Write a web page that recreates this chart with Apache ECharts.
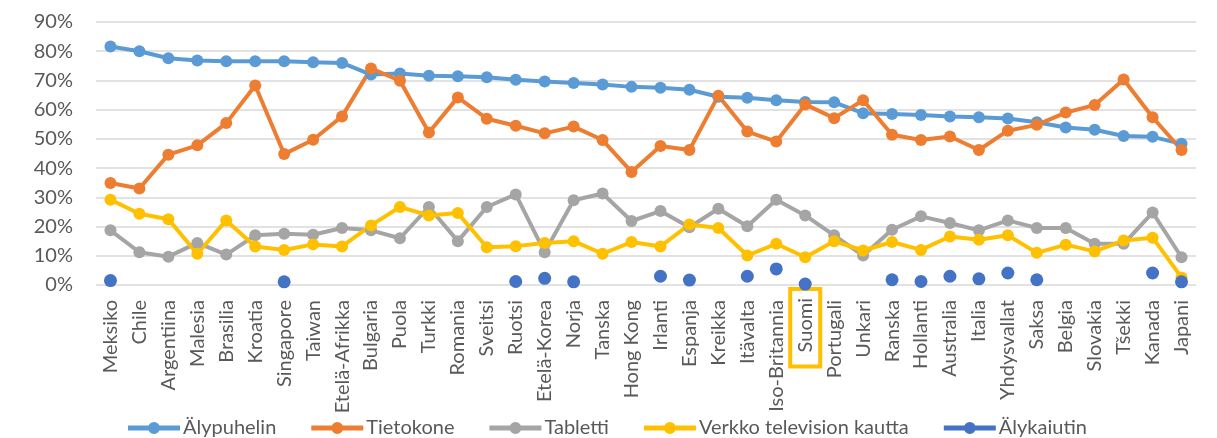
<!DOCTYPE html>
<html>
<head>
<meta charset="utf-8">
<script src="https://cdn.jsdelivr.net/npm/echarts@6/dist/echarts.min.js"></script>
<style>
  html, body { margin: 0; padding: 0; background: #fff; }
  #chart { width: 1217px; height: 438px; }
</style>
</head>
<body>
<div id="chart"></div>
<script>
// Maat (x-akseli)
var maat = ['Meksiko', 'Chile', 'Argentiina', 'Malesia', 'Brasilia', 'Kroatia', 'Singapore', 'Taiwan',
  'Etelä-Afrikka', 'Bulgaria', 'Puola', 'Turkki', 'Romania', 'Sveitsi', 'Ruotsi', 'Etelä-Korea', 'Norja',
  'Tanska', 'Hong Kong', 'Irlanti', 'Espanja', 'Kreikka', 'Itävalta', 'Iso-Britannia', 'Suomi', 'Portugali',
  'Unkari', 'Ranska', 'Hollanti', 'Australia', 'Italia', 'Yhdysvallat', 'Saksa', 'Belgia', 'Slovakia',
  'Tšekki', 'Kanada', 'Japani'];

// Osuudet prosentteina
var alypuhelin = [81.6, 80.0, 77.6, 76.8, 76.6, 76.6, 76.6, 76.2, 76.0, 72.0, 72.4, 71.6, 71.4, 71.1, 70.2,
  69.6, 69.1, 68.6, 67.8, 67.5, 66.8, 64.4, 64.1, 63.2, 62.6, 62.5, 58.8, 58.5, 58.2, 57.7, 57.4, 57.0, 55.7,
  53.9, 53.1, 51.0, 50.7, 48.3];
var tietokone = [34.9, 33.0, 44.6, 47.8, 55.4, 68.3, 44.8, 49.7, 57.7, 74.1, 69.9, 52.2, 64.2, 56.9, 54.5,
  51.9, 54.2, 49.6, 38.7, 47.6, 46.2, 64.8, 52.5, 49.1, 61.8, 57.1, 63.2, 51.4, 49.6, 50.8, 46.2, 52.8, 54.8,
  59.0, 61.6, 70.3, 57.4, 46.2];
var tabletti = [18.7, 11.2, 9.7, 14.4, 10.4, 17.0, 17.5, 17.2, 19.5, 18.7, 16.0, 26.7, 15.0, 26.7, 31.0,
  11.2, 29.0, 31.3, 21.9, 25.3, 19.8, 26.1, 20.1, 29.2, 23.8, 17.0, 10.1, 18.9, 23.5, 21.2, 18.7, 22.1, 19.5,
  19.5, 14.1, 14.1, 24.8, 9.5];
var verkkoTv = [29.2, 24.4, 22.5, 10.7, 22.1, 13.2, 12.0, 13.9, 13.2, 20.4, 26.7, 23.8, 24.6, 12.9, 13.3,
  14.4, 15.0, 10.7, 14.7, 13.2, 20.7, 19.5, 10.1, 14.1, 9.5, 15.0, 11.8, 14.7, 12.0, 16.6, 15.5, 17.0, 11.0,
  13.8, 11.5, 15.2, 16.2, 2.6];
var alykaiutin = [1.5, null, null, null, null, null, 1.1, null, null, null, null, null, null, null, 1.2,
  2.3, 1.1, null, null, 3.0, 1.7, null, 3.0, 5.5, 0.3, null, null, 1.8, 1.2, 3.0, 2.1, 4.1, 1.8,
  null, null, null, 4.1, 1.1];

var tekstiVari = '#595959';
var fontti = 'Lato, "Liberation Sans", sans-serif';
// selitteen kuvake: paksu viiva + pallo keskellä (molemmat myötäpäivään)
var selitePolku = 'path://M0,4.5h52v5h-52z M20,7a6,6 0 1,1 12,0a6,6 0 1,1 -12,0z';

// apu: viivasarja
function sarja(nimi, data, vari) {
  return {
    name: nimi,
    type: 'line',
    data: data,
    symbol: 'circle',
    symbolSize: 12,
    lineStyle: { width: 4, color: vari },
    itemStyle: { color: vari },
    emphasis: { disabled: true }
  };
}

var kaiutin = sarja('Älykaiutin', alykaiutin, '#4472C4');
kaiutin.lineStyle.opacity = 0; // vain pisteet
kaiutin.symbolSize = 13;

var option = {
  animation: false,
  textStyle: { fontFamily: fontti },
  grid: { left: 96, right: 21, top: 22, bottom: 153, outerBoundsMode: 'none' },
  legend: {
    left: 123,
    top: 413,
    itemGap: 35,
    itemWidth: 52,
    itemHeight: 12,
    icon: selitePolku,
    itemStyle: { borderWidth: 0 },
    textStyle: { color: tekstiVari, fontSize: 20, fontFamily: fontti, padding: [0, 0, 0, -2] },
    data: ['Älypuhelin', 'Tietokone', 'Tabletti', 'Verkko television kautta', 'Älykaiutin']
  },
  xAxis: {
    type: 'category',
    data: maat,
    boundaryGap: true,
    axisLine: { show: false },
    axisTick: { show: false },
    axisLabel: {
      rotate: 90,
      interval: 0,
      margin: 4,
      color: tekstiVari,
      fontSize: 20,
      fontFamily: fontti,
      // Suomi korostetaan keltaisella kehyksellä
      formatter: function (v) { return v === 'Suomi' ? '{hl|' + v + '}' : '{n|' + v + '}'; },
      rich: {
        n: {
          color: tekstiVari,
          fontSize: 20,
          fontFamily: fontti,
          padding: [0, 11, 0, 0]
        },
        hl: {
          color: tekstiVari,
          fontSize: 20,
          fontFamily: fontti,
          borderColor: '#FFC000',
          borderWidth: 4,
          padding: [5, 9, 5, 14]
        }
      }
    }
  },
  yAxis: {
    type: 'value',
    min: 0,
    max: 90,
    interval: 10,
    axisLine: { show: false },
    axisTick: { show: false },
    splitLine: { lineStyle: { color: '#D9D9D9', width: 1.5 } },
    axisLabel: {
      formatter: '{value}%',
      color: tekstiVari,
      fontSize: 20,
      fontFamily: fontti,
      margin: 23
    }
  },
  series: [
    sarja('Älypuhelin', alypuhelin, '#5B9BD5'),
    sarja('Tietokone', tietokone, '#ED7D31'),
    sarja('Tabletti', tabletti, '#A5A5A5'),
    sarja('Verkko television kautta', verkkoTv, '#FFC000'),
    kaiutin
  ]
};

var myChart = echarts.init(document.getElementById('chart'));
myChart.setOption(option);
</script>
</body>
</html>
